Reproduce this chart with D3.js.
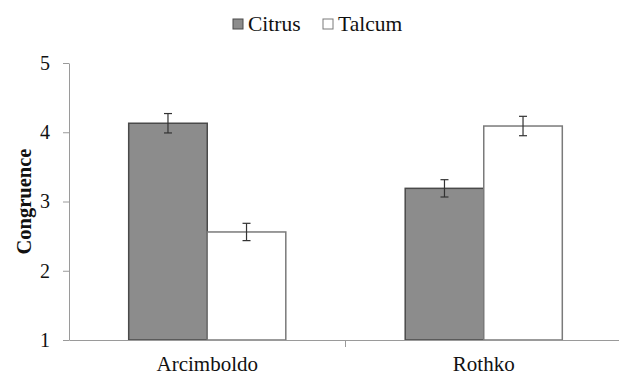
<!DOCTYPE html>
<html>
<head>
<meta charset="utf-8">
<script src="https://cdn.jsdelivr.net/npm/d3@7"></script>
<style>
  body { margin: 0; background: #fff; }
  svg text { font-family: "Liberation Serif", "Times New Roman", serif; }
</style>
</head>
<body>
<div id="chart"></div>
<script>
// data
var categories = ["Arcimboldo", "Rothko"];
var seriesNames = ["Citrus", "Talcum"];
var citrusValues = [4.13, 3.19];
var talcumValues = [2.56, 4.09];
var citrusErrors = [0.14, 0.125];
var talcumErrors = [0.125, 0.14];
var yTicks = [1, 2, 3, 4, 5];

var width = 619;
var height = 376;
var marginLeft = 69;
var marginRight = -3;
var marginTop = 63;
var marginBottom = 36;
var serif = "Liberation Serif, Times New Roman, serif";

var colors = { Citrus: "#8c8c8c", Talcum: "#ffffff" };
var strokes = { Citrus: "#4a4a4a", Talcum: "#7a7a7a" };

var rows = categories.map(function(c, i) {
    return {
        category: c,
        values: [
            { series: "Citrus", value: citrusValues[i], err: citrusErrors[i] },
            { series: "Talcum", value: talcumValues[i], err: talcumErrors[i] }
        ]
    };
});

const svg = d3.select("#chart").append("svg")
    .attr("width", width)
    .attr("height", height)
    .attr("font-family", serif);

// scales
const x = d3.scaleBand()
    .domain(categories)
    .range([marginLeft, width - marginRight]);

const xInner = d3.scaleBand()
    .domain(seriesNames)
    .range([0, x.bandwidth()])
    .paddingOuter(0.76);

const y = d3.scaleLinear()
    .domain([1, 5])
    .range([height - marginBottom, marginTop]);

// bars
const groups = svg.append("g")
    .selectAll("g")
    .data(rows)
    .join("g")
    .attr("transform", d => `translate(${x(d.category)},0)`);

groups.selectAll("rect")
    .data(d => d.values)
    .join("rect")
    .attr("x", d => xInner(d.series))
    .attr("y", d => y(d.value))
    .attr("width", xInner.bandwidth())
    .attr("height", d => y(1) - y(d.value))
    .attr("fill", d => colors[d.series])
    .attr("stroke", d => strokes[d.series])
    .attr("stroke-width", 1.5);

// error bars
const errs = groups.selectAll("g.err")
    .data(d => d.values)
    .join("g")
    .attr("class", "err")
    .attr("stroke", "#333")
    .attr("stroke-width", 1.2);

errs.append("line")
    .attr("x1", d => xInner(d.series) + xInner.bandwidth() / 2)
    .attr("x2", d => xInner(d.series) + xInner.bandwidth() / 2)
    .attr("y1", d => y(d.value + d.err))
    .attr("y2", d => y(d.value - d.err));

errs.selectAll("line.cap")
    .data(d => [
        { cx: xInner(d.series) + xInner.bandwidth() / 2, cy: y(d.value + d.err) },
        { cx: xInner(d.series) + xInner.bandwidth() / 2, cy: y(d.value - d.err) }
    ])
    .join("line")
    .attr("class", "cap")
    .attr("x1", d => d.cx - 4)
    .attr("x2", d => d.cx + 4)
    .attr("y1", d => d.cy)
    .attr("y2", d => d.cy);

// y axis
const yAxis = svg.append("g")
    .attr("transform", `translate(${marginLeft},0)`)
    .call(d3.axisLeft(y).tickValues(yTicks).tickFormat(d3.format("d"))
        .tickSize(6).tickSizeOuter(0).tickPadding(13))
    .attr("font-family", serif)
    .attr("font-size", 20);
yAxis.selectAll("path, line").attr("stroke", "#9a9a9a");
yAxis.selectAll("text").attr("fill", "#111");

// x axis
const xAxis = svg.append("g")
    .attr("transform", `translate(0,${y(1)})`)
    .call(d3.axisBottom(x).tickSize(0).tickSizeOuter(0).tickPadding(16))
    .attr("font-family", serif)
    .attr("font-size", 21);
xAxis.select(".domain").attr("stroke", "#9a9a9a");
xAxis.selectAll("text").attr("fill", "#111");

// separator ticks between categories
xAxis.selectAll("line.sep")
    .data(categories.slice(0, -1))
    .join("line")
    .attr("class", "sep")
    .attr("x1", d => x(d) + x.bandwidth())
    .attr("x2", d => x(d) + x.bandwidth())
    .attr("y1", 0)
    .attr("y2", 7)
    .attr("stroke", "#9a9a9a");

// y axis title
svg.append("text")
    .attr("transform", `translate(31,${(y(1) + y(5)) / 2}) rotate(-90)`)
    .attr("text-anchor", "middle")
    .attr("fill", "#111")
    .attr("font-size", 20.5)
    .attr("font-weight", "bold")
    .text("Congruence");

// legend
var legendX = [233, 323];
const legend = svg.append("g")
    .selectAll("g")
    .data(seriesNames)
    .join("g")
    .attr("transform", (d, i) => `translate(${legendX[i]},19)`);

legend.append("rect")
    .attr("width", 10)
    .attr("height", 10)
    .attr("fill", d => colors[d])
    .attr("stroke", d => strokes[d])
    .attr("stroke-width", 1);

legend.append("text")
    .attr("x", 15)
    .attr("y", 12)
    .attr("fill", "#111")
    .attr("font-size", 21.5)
    .text(d => d);
</script>
</body>
</html>
